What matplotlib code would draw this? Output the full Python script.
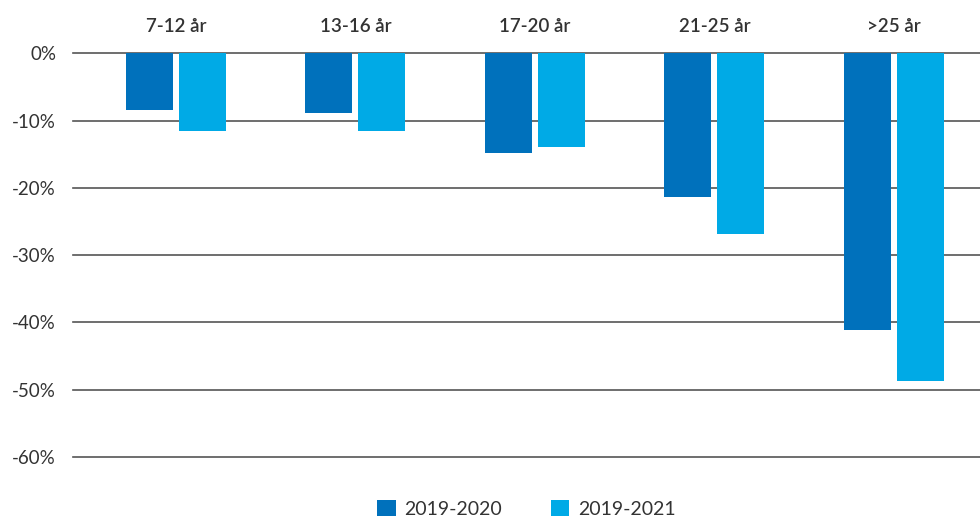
import matplotlib
matplotlib.use("Agg")
import matplotlib.pyplot as plt
from matplotlib.patches import Patch
import numpy as np

plt.rcParams['font.family'] = ['Lato', 'DejaVu Sans']

categories = ["7-12 år", "13-16 år", "17-20 år", "21-25 år", ">25 år"]
series_names = ["2019-2020", "2019-2021"]
values_2020 = [-8.4, -8.8, -14.8, -21.4, -41.2]
values_2021 = [-11.5, -11.5, -14.0, -26.9, -48.7]
yticks = [0, -10, -20, -30, -40, -50, -60]
ytick_labels = ["0%", "-10%", "-20%", "-30%", "-40%", "-50%", "-60%"]

dark_blue = "#0071BC"
light_blue = "#00AAE6"
text_color = "#333333"

fig = plt.figure(figsize=(9.8, 5.18), dpi=100)
ax = fig.add_axes([0.0742, 0.1178, 0.9258, 0.7793])

x = np.arange(len(categories))
w = 0.262
off = 0.148
ax.bar(x - off, values_2020, width=w, color=dark_blue, zorder=3)
ax.bar(x + off, values_2021, width=w, color=light_blue, zorder=3)

ax.set_xlim(-0.575, len(categories) - 1 + 0.48)
ax.set_ylim(-60, 0)
ax.set_yticks(yticks)
ax.set_yticklabels(ytick_labels, fontsize=13.5, color=text_color)
ax.set_xticks([])
ax.tick_params(axis='y', length=0, pad=12)
for s in ax.spines.values():
    s.set_visible(False)
for t in yticks:
    ax.axhline(t, color="#555555", lw=1.2, zorder=1, clip_on=False)

# group labels above the zero line
for xi, cat in zip(x, categories):
    ax.text(xi, 1.066, cat, transform=ax.get_xaxis_transform(), ha='center',
            va='center', fontsize=13.5, fontweight='semibold', color=text_color)

handles = [Patch(facecolor=dark_blue, edgecolor='none'),
           Patch(facecolor=light_blue, edgecolor='none')]
leg = ax.legend(handles, series_names, loc='center', bbox_to_anchor=(0.5, -0.128),
                ncol=2, frameon=False, fontsize=14, handlelength=0.95, handleheight=0.95,
                handletextpad=0.45, columnspacing=2.5, borderpad=0.2)
for t in leg.get_texts():
    t.set_color(text_color)

fig.savefig("out.png", dpi=100)
